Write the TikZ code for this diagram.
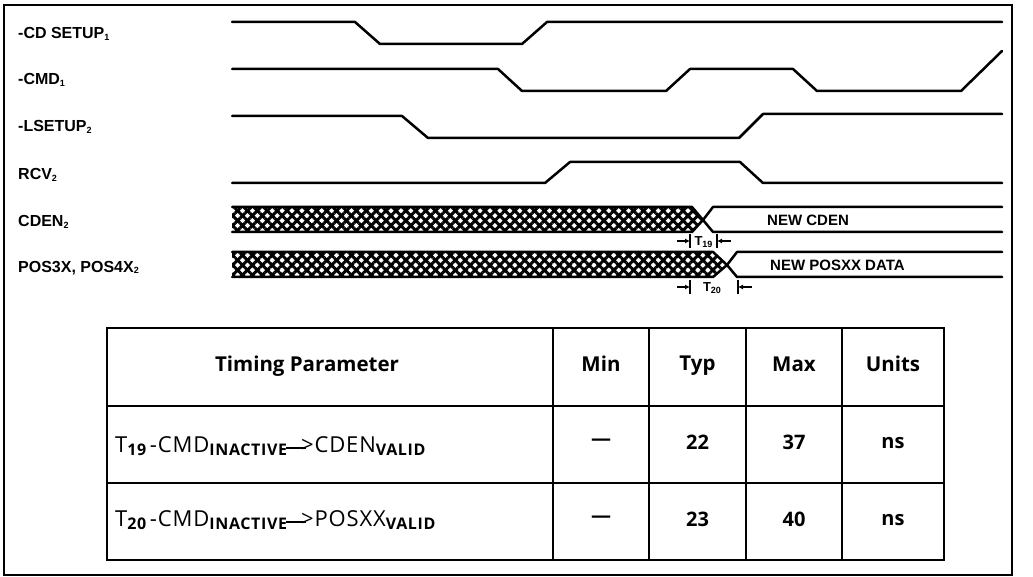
\documentclass[tikz,border=0pt]{standalone}
\usepackage{fontspec}
\setmainfont{Liberation Sans}
\newfontfamily\tabfont{Open Sans}
\newfontfamily\rowfont[LetterSpace=4]{Open Sans}
\usetikzlibrary{patterns.meta,arrows.meta}
\newcommand{\tsub}[1]{\raisebox{-3.5pt}{\fontsize{16}{17}\selectfont\bfseries #1}}
\newcommand{\arr}{\kern-1pt\raisebox{3.5pt}{\rule{20pt}{1.2pt}}\kern-5pt>}
\newcommand{\lsub}[1]{\raisebox{-1.5pt}{\fontsize{9}{10}\selectfont\bfseries #1}}
\begin{document}
\begin{tikzpicture}[x=1pt,y=-1pt,
  sig/.style={line width=2.5pt,line join=round,line cap=round},
  lbl/.style={anchor=west,inner sep=0pt,font=\fontsize{16}{18}\selectfont\bfseries},
  hatchA/.style={pattern={Lines[angle=45,distance=7pt,line width=3pt]}},
  hatchB/.style={pattern={Lines[angle=-45,distance=7pt,line width=3pt]}},
  small/.style={inner sep=0pt,font=\fontsize{15}{16}\selectfont\bfseries},
  tiny/.style={inner sep=0pt,font=\fontsize{13}{14}\selectfont\bfseries},
  grid/.style={line width=2.4pt},
  th/.style={inner sep=0pt,font=\tabfont\fontsize{20.5}{22}\selectfont\bfseries},
  td/.style={inner sep=0pt,font=\tabfont\fontsize{20}{22}\selectfont\bfseries},
  tr/.style={inner sep=0pt,anchor=base west,font=\rowfont\fontsize{22}{24}\selectfont}]
\useasboundingbox (0,0) rectangle (1033,577);
% frame
\draw[line width=2.2pt] (4,5) rectangle (1012,575);
% labels
\node[lbl] (l1) at (18,34) {-CD SETUP\lsub{1}};
\node[lbl] (l2) at (18,80) {-CMD\lsub{1}};
\node[lbl] (l3) at (18,127) {-LSETUP\lsub{2}};
\node[lbl] (l4) at (18,175) {RCV\lsub{2}};
\node[lbl] (l5) at (18,222) {CDEN\lsub{2}};
\node[lbl] (l6) at (18,268) {POS3X, POS4X\lsub{2}};
% waveforms
\draw[sig] (232,22) -- (355,22) -- (380,44) -- (522,44) -- (547,22) -- (1002,22);
\draw[sig] (232,69) -- (498,69) -- (522,91) -- (666,91) -- (690,69) -- (793,69) -- (817,91) -- (961,91) -- (1002,51);
\draw[sig] (232,116) -- (402,116) -- (428,138) -- (739,138) -- (763,114) -- (1002,114);
\draw[sig] (232,183) -- (545,183) -- (570,162) -- (740,162) -- (763,183) -- (1002,183);
% CDEN bus
\fill[hatchA] (232,207) -- (692,207) -- (703,220) -- (692,232) -- (232,232) -- cycle;
\fill[hatchB] (232,207) -- (692,207) -- (703,220) -- (692,232) -- (232,232) -- cycle;
\draw[sig] (232,207) -- (692,207) -- (703,220) -- (692,232) -- (232,232);
\draw[sig] (1002,207) -- (713,207) -- (703,220) -- (713,232) -- (1002,232);
\node[small,anchor=west] (nc) at (767,220) {NEW CDEN};
% POS bus
\fill[hatchA] (232,252) -- (713,252) -- (727,265) -- (713,277) -- (232,277) -- cycle;
\fill[hatchB] (232,252) -- (713,252) -- (727,265) -- (713,277) -- (232,277) -- cycle;
\draw[sig] (232,252) -- (713,252) -- (727,265) -- (713,277) -- (232,277);
\draw[sig] (1002,252) -- (737,252) -- (727,265) -- (737,277) -- (1002,277);
\node[small,anchor=west] (np) at (770,265) {NEW POSXX DATA};
% T19
\coordinate (a1) at (677,241); \coordinate (b1) at (690,241);
\coordinate (c1) at (717,241); \coordinate (d1) at (731,241);
\draw[line width=1.4pt,-{Latex[length=5pt,width=5pt]}] (a1) -- (b1);
\draw[line width=1.6pt] (690,234) -- (690,248);
\node[tiny] (t19) at (703.5,242) {T\lsub{19}};
\draw[line width=1.6pt] (717,234) -- (717,248);
\draw[line width=1.4pt,-{Latex[length=5pt,width=5pt]}] (d1) -- (c1);
% T20
\coordinate (a2) at (677,287); \coordinate (b2) at (690,287);
\coordinate (c2) at (738,287); \coordinate (d2) at (752,287);
\draw[line width=1.4pt,-{Latex[length=5pt,width=5pt]}] (a2) -- (b2);
\draw[line width=1.6pt] (690,280) -- (690,294);
\node[tiny] (t20) at (712,288) {T\lsub{20}};
\draw[line width=1.6pt] (738,280) -- (738,294);
\draw[line width=1.4pt,-{Latex[length=5pt,width=5pt]}] (d2) -- (c2);
% table
\draw[grid] (107,328) rectangle (944,560);
\draw[grid] (107,406) -- (944,406);
\draw[grid] (107,483) -- (944,483);
\foreach \x in {553,649,746,842} \draw[grid] (\x,328) -- (\x,560);
\node[th] (h1) at (307,366) {Timing Parameter};
\node[th] (h2) at (601,364) {Min};
\node[th] (h3) at (697.5,366) {Typ};
\node[th] (h4) at (794,364) {Max};
\node[th] (h5) at (893,364) {Units};
\node[tr] (r1) at (115,452) {T\tsub{19}\,-CMD\tsub{INACTIVE}\arr CDEN\tsub{VALID}};
\node[tr] (r2) at (115,526) {T\tsub{20}\,-CMD\tsub{INACTIVE}\arr POSXX\tsub{VALID}};
\node[td] (m1) at (601,442) {\textemdash};
\node[td] (y1) at (697.5,442) {22};
\node[td] (x1) at (794,442) {37};
\node[td] (u1) at (893,443) {ns};
\node[td] (m2) at (601,519) {\textemdash};
\node[td] (y2) at (697.5,519) {23};
\node[td] (x2) at (794,519) {40};
\node[td] (u2) at (893,520) {ns};
\end{tikzpicture}
\end{document}
